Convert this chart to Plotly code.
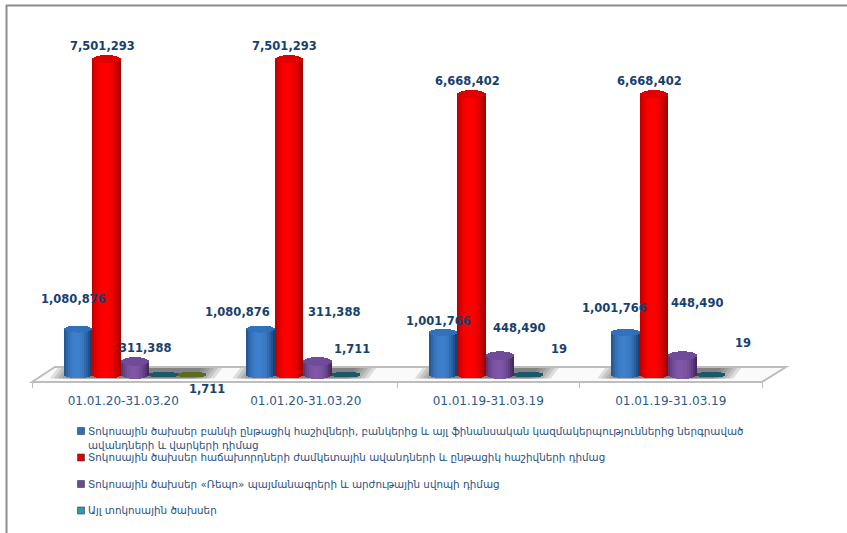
import math
import plotly.graph_objects as go

# ---------- data ----------
periods = ["01.01.20-31.03.20", "01.01.20-31.03.20", "01.01.19-31.03.19", "01.01.19-31.03.19"]
bank_expense = [1080876, 1080876, 1001766, 1001766]
client_expense = [7501293, 7501293, 6668402, 6668402]
repo_expense = [311388, 311388, 448490, 448490]
other_expense = [0, 1711, 19, 19]
unnamed_expense = [1711, None, None, None]
bank_name = "Տոկոսային ծախսեր բանկի ընթացիկ հաշիվների, բանկերից և այլ ֆինանսական կազմակերպություններից ներգրաված<br>ավանդների և վարկերի դիմաց"
client_name = "Տոկոսային ծախսեր հաճախորդների ժամկետային ավանդների և ընթացիկ հաշիվների դիմաց"
repo_name = "Տոկոսային ծախսեր «Ռեպո» պայմանագրերի և արժութային սվոպի դիմաց"
other_name = "Այլ տոկոսային ծախսեր"

# ---------- layout constants (pixels) ----------
W, H = 847, 533
L, R, T, B = 32, 762, 20, 382
ZERO_PX = 374.5
UNITS_PER_PX = 23776
GROUP_PX = (R - L) / 4
BAR_PX = 28.5
FIRST_BAR_PX = 31.75
N_STRIPS = 14

ymin = -(B - ZERO_PX) * UNITS_PER_PX
ymax = (ZERO_PX - T) * UNITS_PER_PX

def paper_x(px):
    return (px - L) / (R - L)

def paper_y(px):
    return (B - px) / (B - T)

def bar_x(group, slot):
    return group + (FIRST_BAR_PX + slot * BAR_PX) / GROUP_PX

def mix(c1, c2, t):
    return "rgb(%d,%d,%d)" % tuple(round(a + (b - a) * t) for a, b in zip(c1, c2))

# series: values, edge colour, centre colour, cap colour, cap radius (px)
series = [
    (bank_expense, (24, 66, 118), (62, 128, 204), (46, 108, 184), 3.5),
    (client_expense, (165, 0, 0), (255, 0, 0), (214, 0, 0), 4.0),
    (repo_expense, (68, 42, 96), (128, 86, 166), (108, 72, 150), 4.3),
    (other_expense, (27, 88, 106), (27, 88, 106), (27, 88, 106), 2.8),
    (unnamed_expense, (92, 108, 30), (92, 108, 30), (92, 108, 30), 2.8),
]

fig = go.Figure()
strip_w = BAR_PX / N_STRIPS / GROUP_PX
for s, (vals, edge, centre, cap, ry) in enumerate(series):
    xs, bases, sizes, cols = [], [], [], []
    for g, v in enumerate(vals):
        if v is None:
            continue
        for part in ("body", "cap"):
            for j in range(N_STRIPS):
                u = (j + 0.5) / N_STRIPS * 2 - 1
                h = ry * UNITS_PER_PX * math.sqrt(max(0, 1 - u * u))
                shade = 1 - abs(u + 0.1) ** 2.2
                xs.append(bar_x(g, s) + (j + 0.5) * strip_w)
                if part == "body":
                    bases.append(-h)
                    sizes.append(v + h)
                    cols.append(mix(edge, centre, max(0, shade)))
                else:
                    bases.append(v - h)
                    sizes.append(2 * h)
                    cols.append(mix(cap, centre, 0.25 * max(0, shade)))
    fig.add_trace(go.Bar(x=xs, y=sizes, base=bases, width=strip_w * 1.05,
                         marker=dict(color=cols, line=dict(width=0)),
                         showlegend=False, hoverinfo="skip"))

# legend: one real legend per entry so each can sit on its own line; the swatch is placed as a shape
legend_items = [
    (bank_name, (47, 110, 181), 431, 13),
    (client_name, (224, 0, 0), 457.5, 14.7),
    (repo_name, (110, 74, 150), 484, 14.7),
    (other_name, (42, 157, 181), 510.5, 14.7),
]
LEGEND_TEXT_PX = 48
SWATCH_X = (77.5, 84.5)
legend_layout = {}
swatches = []
for i, (name, rgb, line_y, top_gap) in enumerate(legend_items):
    key = "legend" if i == 0 else f"legend{i + 1}"
    fig.add_trace(go.Scatter(x=[None], y=[None], mode="markers", name=name, legend=key,
                             marker=dict(symbol="square", size=7, color="rgba(%d,%d,%d,0)" % rgb)))
    legend_layout[key] = dict(xref="container", yref="container", x=LEGEND_TEXT_PX / W,
                              y=1 - (line_y - top_gap) / H, xanchor="left", yanchor="top", valign="top",
                              font=dict(size=10.35, color="#2A4F7C", family="DejaVu Sans"),
                              bgcolor="rgba(0,0,0,0)", itemclick=False, itemdoubleclick=False)
    swatches.append(dict(type="rect", xref="paper", yref="paper",
                         x0=paper_x(SWATCH_X[0]), x1=paper_x(SWATCH_X[1]),
                         y0=paper_y(line_y + 3.5), y1=paper_y(line_y - 3.5),
                         fillcolor="rgb(%d,%d,%d)" % rgb, line=dict(color="rgba(40,60,90,0.6)", width=1)))

# ---------- data labels: offset (px) from the top of each bar ----------
label_offsets = {
    (0, 0): (-5, 30), (1, 0): (-4.5, 13.5), (2, 0): (9.5, 13), (4, 0): (15, -15),
    (0, 1): (-23.5, 17.5), (1, 1): (-5, 13.5), (2, 1): (16, 49), (3, 1): (5.5, 25),
    (0, 2): (-5, 11), (1, 2): (-4.5, 13.5), (2, 2): (18.5, 28), (3, 2): (30, 26),
    (0, 3): (-11.5, 24), (1, 3): (-5, 13.5), (2, 3): (14, 53), (3, 3): (31.5, 32),
}
annotations = []
for (s, g), (dx, dy) in label_offsets.items():
    v = series[s][0][g]
    annotations.append(dict(x=bar_x(g, s) + BAR_PX / 2 / GROUP_PX, y=v, xref="x", yref="y",
                            text=f"{v:,}", showarrow=False, xshift=dx, yshift=dy,
                            font=dict(family="DejaVu Sans", size=11.5, color="#17406D", weight="bold")))

# ---------- decor: frame, floor, floor shadows ----------
def poly(points):
    return "M" + " L".join(f"{paper_x(x):.5f},{paper_y(y):.5f}" for x, y in points) + " Z"

shapes = [
    dict(type="line", xref="paper", yref="paper", x0=paper_x(6), x1=paper_x(847), y0=paper_y(5.5), y1=paper_y(5.5),
         line=dict(color="#8C8C8C", width=2)),
    dict(type="line", xref="paper", yref="paper", x0=paper_x(6.5), x1=paper_x(6.5), y0=paper_y(5), y1=paper_y(533),
         line=dict(color="#8C8C8C", width=2)),
    dict(type="path", xref="paper", yref="paper", layer="below", path=poly([(32, 382), (762, 382), (786, 367), (55, 367)]),
         fillcolor="#FAFAFA", line=dict(color="#BDBDBD", width=2)),
] + swatches
for g in range(4):
    n_bars = 5 if g == 0 else 4
    x0 = L + g * GROUP_PX + FIRST_BAR_PX - 14
    x1 = x0 + n_bars * BAR_PX + 22
    for grow in range(6):
        d = grow * 4
        shapes.append(dict(type="path", xref="paper", yref="paper", layer="below",
                           path=poly([(x0 + d, 378.5), (x1 - d, 378.5), (x1 - d + 8, 368), (x0 + d + 8, 368)]),
                           fillcolor="rgba(60,60,60,0.15)", line=dict(width=0)))

fig.update_layout(
    width=W, height=H, autosize=False,
    margin=dict(l=L, r=W - R, t=T, b=H - B, pad=0, autoexpand=False),
    paper_bgcolor="white", plot_bgcolor="rgba(0,0,0,0)",
    barmode="overlay", bargap=0,
    annotations=annotations, shapes=shapes,
    font=dict(family="DejaVu Sans", color="#2A4F7C"),
    xaxis=dict(range=[0, 4], tickmode="array", tickvals=[g + 0.5 for g in range(4)], ticktext=periods,
               ticks="outside", ticklen=8, tickcolor="rgba(0,0,0,0)", showgrid=False, zeroline=False, showline=False,
               tickfont=dict(size=12, color="#2A5A8C", family="DejaVu Sans"),
               minor=dict(tickmode="array", tickvals=list(range(5)), ticks="outside", ticklen=5,
                          tickcolor="#BDBDBD", tickwidth=1, showgrid=False)),
    yaxis=dict(range=[ymin, ymax], visible=False),
    **legend_layout,
)
fig.write_html("out.html", config={"displayModeBar": False},
               post_script="document.body.style.margin='0';")
